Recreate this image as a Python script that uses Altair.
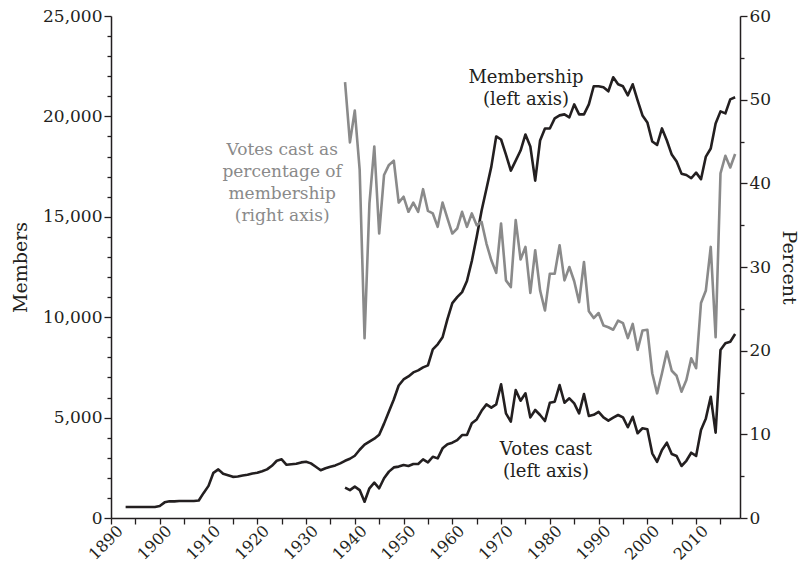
import altair as alt
import pandas as pd

# ---------------- data ----------------
mem_years = list(range(1893, 2019))
membership = [
    550, 550, 550, 550, 550, 550, 550,                                  # 1893-1899
    600, 780, 830, 830, 850, 850, 850, 850, 870, 1250,                  # 1900-1909
    1600, 2250, 2420, 2200, 2130, 2050, 2070, 2120, 2150, 2220,         # 1910-1919
    2250, 2330, 2420, 2600, 2850, 2920, 2650, 2680, 2700, 2770,         # 1920-1929
    2800, 2720, 2550, 2380, 2480, 2550, 2620, 2720, 2850, 2950,         # 1930-1939
    3100, 3400, 3650, 3800, 3950, 4150, 4700, 5300, 5900, 6600,         # 1940-1949
    6900, 7050, 7250, 7350, 7500, 7600, 8400, 8650, 9000, 9900,         # 1950-1959
    10700, 11000, 11250, 11800, 12800, 14000, 15300, 16400, 17500, 19000,  # 1960-1969
    18850, 18100, 17300, 17800, 18300, 19100, 18500, 16800, 18800, 19400,  # 1970-1979
    19400, 19900, 20050, 20100, 19950, 20600, 20100, 20100, 20600, 21500,  # 1980-1989
    21500, 21450, 21250, 21950, 21600, 21500, 21050, 21600, 20800, 20050,  # 1990-1999
    19700, 18750, 18580, 19400, 18800, 18100, 17750, 17150, 17080, 16920,  # 2000-2009
    17200, 16870, 18000, 18400, 19650, 20250, 20150, 20850, 20950,         # 2010-2018
]

vote_years = list(range(1938, 2019))
votes = [
    1510, 1390, 1560, 1390, 810, 1480, 1760, 1480, 1980, 2310,
    2520, 2560, 2640, 2590, 2690, 2690, 2920, 2770, 3050, 2970,
    3470, 3670, 3750, 3880, 4130, 4130, 4720, 4910, 5340, 5660,
    5500, 5660, 6660, 5210, 4800, 6370, 5840, 6210, 5010, 5380,
    5130, 4830, 5740, 5790, 6620, 5740, 5960, 5710, 5210, 6170,
    5080, 5140, 5290, 5010, 4850, 5000, 5130, 5010, 4520, 5040,
    4220, 4470, 4420, 3220, 2800, 3390, 3750, 3190, 3090, 2590,
    2850, 3250, 3090, 4380, 4960, 6040, 4250, 8370, 8700, 8780,
    9160,
]

percent = [
    52.1, 44.9, 48.7, 41.6, 21.5, 37.6, 44.4, 34.0, 41.0, 42.2,
    42.7, 37.7, 38.4, 36.6, 37.7, 36.6, 39.3, 36.7, 36.4, 34.8,
    37.7, 35.8, 34.0, 34.6, 36.6, 34.8, 36.4, 35.0, 35.4, 32.8,
    30.8, 29.3, 35.2, 28.4, 27.6, 35.6, 30.9, 32.4, 26.9, 32.0,
    27.2, 24.8, 29.2, 29.2, 32.6, 28.4, 30.0, 28.3, 25.8, 30.6,
    24.7, 23.9, 24.5, 23.0, 22.8, 22.5, 23.6, 23.3, 21.5, 23.2,
    20.1, 22.4, 22.5, 17.3, 14.9, 17.3, 19.9, 17.6, 17.0, 15.1,
    16.5, 19.1, 17.9, 25.7, 27.2, 32.4, 21.6, 41.2, 43.3, 41.9,
    43.5,
]

# annotation texts (positioned in data units)
black_labels = ["Membership", "(left axis)", "Votes cast", "(left axis)"]
black_label_years = [1975.1, 1975.1, 1979.2, 1979.2]
black_label_values = [21900, 20800, 3390, 2290]

gray_labels = ["Votes cast as", "percentage of", "membership", "(right axis)"]
gray_label_years = [1925.1, 1925.1, 1925.1, 1925.1]
gray_label_values = [44.0, 41.35, 38.7, 36.1]

x_ticks = list(range(1890, 2020, 5))
left_ticks = list(range(0, 25001, 1000))
right_ticks = list(range(0, 61, 5))

# ---------------- frames ----------------
df_mem = pd.DataFrame({"year": mem_years, "value": membership})
df_votes = pd.DataFrame({"year": vote_years, "value": votes})
df_pct = pd.DataFrame({"year": vote_years, "value": percent})
df_black = pd.DataFrame({"year": black_label_years, "value": black_label_values, "label": black_labels})
df_gray = pd.DataFrame({"year": gray_label_years, "value": gray_label_values, "label": gray_labels})

FONT = "DejaVu Serif"
INK = "#231f20"
GRAY = "#8a8a8a"

x_enc = alt.X(
    "year:Q",
    scale=alt.Scale(domain=[1890, 2019], nice=False, zero=False),
    axis=alt.Axis(
        values=x_ticks,
        labelExpr="datum.value % 10 == 0 ? datum.value : ''",
        labelAngle=-45,
        labelAlign="right",
        labelBaseline="middle",
        tickSize=6,
        labelPadding=4,
        labelOffset=9,
        labelFontSize=16,
        title=None,
    ),
)

y_left = alt.Y(
    "value:Q",
    scale=alt.Scale(domain=[0, 25000], nice=False),
    axis=alt.Axis(
        values=left_ticks,
        format=",d",
        labelExpr="datum.value % 5000 == 0 ? datum.label : ''",
        tickSize={"condition": {"test": "datum.value % 5000 === 0", "value": 7}, "value": 4},
        labelPadding=2,
        labelFontSize=17,
        title="Members",
        titleFontSize=19,
        titlePadding=12,
    ),
)

y_right = alt.Y(
    "value:Q",
    scale=alt.Scale(domain=[0, 60], nice=False),
    axis=alt.Axis(
        orient="right",
        values=right_ticks,
        labelExpr="datum.value % 10 == 0 ? datum.label : ''",
        tickSize={"condition": {"test": "datum.value % 10 === 0", "value": 7}, "value": 4},
        labelPadding=2,
        labelFontSize=17,
        title="Percent",
        titleFontSize=19,
        titlePadding=8,
    ),
)

mem_line = alt.Chart(df_mem).mark_line(color=INK, strokeWidth=2.6, strokeJoin="round").encode(x=x_enc, y=y_left)
votes_line = alt.Chart(df_votes).mark_line(color=INK, strokeWidth=2.6, strokeJoin="round").encode(x=x_enc, y=y_left)
black_text = alt.Chart(df_black).mark_text(
    font=FONT, fontSize=18, color=INK, align="center", baseline="middle"
).encode(x=x_enc, y=y_left, text="label:N")

pct_line = alt.Chart(df_pct).mark_line(color=GRAY, strokeWidth=2.6, strokeJoin="round").encode(x=x_enc, y=y_right)
gray_text = alt.Chart(df_gray).mark_text(
    font=FONT, fontSize=17, color=GRAY, align="center", baseline="middle"
).encode(x=x_enc, y=y_right, text="label:N")

left = alt.layer(mem_line, votes_line, black_text)
right = alt.layer(pct_line, gray_text)

chart = (
    alt.layer(left, right)
    .resolve_scale(y="independent")
    .properties(
        width=629,
        height=502,
        padding={"left": 111, "top": 16, "right": 66, "bottom": 48},
        autosize=alt.AutoSizeParams(type="none"),
        background="white",
    )
    .configure_view(stroke=None)
    .configure_axis(
        grid=False,
        domainColor=INK,
        domainWidth=1.5,
        tickColor=INK,
        tickWidth=1.3,
        labelFont=FONT,
        labelColor=INK,
        titleFont=FONT,
        titleColor=INK,
        titleFontWeight="normal",
    )
)

chart.save("out.html", embed_options={"renderer": "svg", "actions": False})
